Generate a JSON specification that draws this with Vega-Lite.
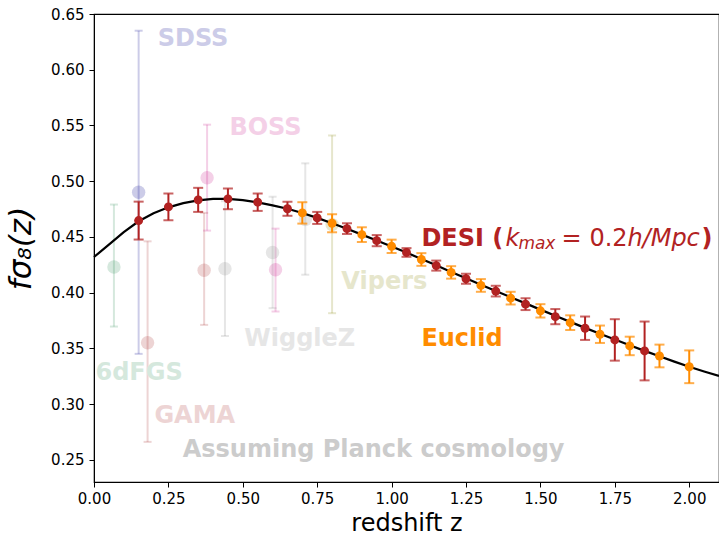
{
  "$schema": "https://vega.github.io/schema/vega-lite/v6.json",
  "width": 625,
  "height": 468,
  "autosize": {"type": "none"},
  "padding": {"left": 94, "top": 14, "right": 0, "bottom": 53},
  "background": "white",
  "config": {
    "font": "DejaVu Sans",
    "view": {"stroke": "black", "strokeWidth": 1.2},
    "axis": {
      "grid": false,
      "labelFlush": false,
      "domainColor": "black",
      "tickColor": "black",
      "labelColor": "black",
      "titleColor": "black",
      "tickSize": 5,
      "labelFontSize": 15,
      "labelFont": "DejaVu Sans",
      "titleFont": "DejaVu Sans",
      "titleFontWeight": "normal"
    }
  },
  "datasets": {
    "curve": [
      {"z": 0.0, "f": 0.4319}, {"z": 0.05, "f": 0.4430}, {"z": 0.1, "f": 0.4542}, {"z": 0.15, "f": 0.4640},
      {"z": 0.2, "f": 0.4712}, {"z": 0.25, "f": 0.4765}, {"z": 0.3, "f": 0.4803}, {"z": 0.35, "f": 0.4828},
      {"z": 0.4, "f": 0.4840}, {"z": 0.45, "f": 0.4840}, {"z": 0.5, "f": 0.4830}, {"z": 0.55, "f": 0.4810},
      {"z": 0.6, "f": 0.4783}, {"z": 0.65, "f": 0.4752}, {"z": 0.7, "f": 0.4714}, {"z": 0.75, "f": 0.4670},
      {"z": 0.8, "f": 0.4622}, {"z": 0.85, "f": 0.4573}, {"z": 0.9, "f": 0.4520}, {"z": 0.95, "f": 0.4467},
      {"z": 1.0, "f": 0.4414}, {"z": 1.05, "f": 0.4359}, {"z": 1.1, "f": 0.4301}, {"z": 1.15, "f": 0.4245},
      {"z": 1.2, "f": 0.4185}, {"z": 1.25, "f": 0.4128}, {"z": 1.3, "f": 0.4071}, {"z": 1.35, "f": 0.4015},
      {"z": 1.4, "f": 0.3959}, {"z": 1.45, "f": 0.3903}, {"z": 1.5, "f": 0.3847}, {"z": 1.55, "f": 0.3791},
      {"z": 1.6, "f": 0.3737}, {"z": 1.65, "f": 0.3683}, {"z": 1.7, "f": 0.3630}, {"z": 1.75, "f": 0.3578},
      {"z": 1.8, "f": 0.3527}, {"z": 1.85, "f": 0.3477}, {"z": 1.9, "f": 0.3428}, {"z": 1.95, "f": 0.3380},
      {"z": 2.0, "f": 0.3335}, {"z": 2.05, "f": 0.3292}, {"z": 2.1, "f": 0.3252}
    ],
    "faint": [
      {"survey": "6dFGS", "z": 0.067, "f": 0.423, "lo": 0.3695, "hi": 0.479},
      {"survey": "SDSS", "z": 0.15, "f": 0.490, "lo": 0.345, "hi": 0.635},
      {"survey": "GAMA", "z": 0.18, "f": 0.355, "lo": 0.266, "hi": 0.446},
      {"survey": "GAMA", "z": 0.37, "f": 0.420, "lo": 0.371, "hi": 0.4715},
      {"survey": "BOSS", "z": 0.38, "f": 0.503, "lo": 0.4556, "hi": 0.5507},
      {"survey": "BOSS", "z": 0.61, "f": 0.4205, "lo": 0.383, "hi": 0.4574},
      {"survey": "WiggleZ", "z": 0.44, "f": 0.4214, "lo": 0.361, "hi": 0.482},
      {"survey": "WiggleZ", "z": 0.60, "f": 0.436, "lo": 0.386, "hi": 0.486},
      {"survey": "WiggleZ", "z": 0.71, "f": 0.4655, "lo": 0.416, "hi": 0.516},
      {"survey": "Vipers", "z": 0.80, "f": 0.461, "lo": 0.3815, "hi": 0.541}
    ],
    "forecast": [
      {"survey": "DESI", "z": 0.15, "f": 0.4646, "lo": 0.4476, "hi": 0.4816},
      {"survey": "DESI", "z": 0.25, "f": 0.4769, "lo": 0.4649, "hi": 0.4889},
      {"survey": "DESI", "z": 0.35, "f": 0.4832, "lo": 0.4724, "hi": 0.4940},
      {"survey": "DESI", "z": 0.45, "f": 0.4841, "lo": 0.4748, "hi": 0.4934},
      {"survey": "DESI", "z": 0.55, "f": 0.4811, "lo": 0.4733, "hi": 0.4889},
      {"survey": "DESI", "z": 0.65, "f": 0.4752, "lo": 0.4689, "hi": 0.4815},
      {"survey": "DESI", "z": 0.75, "f": 0.4670, "lo": 0.4616, "hi": 0.4724},
      {"survey": "DESI", "z": 0.85, "f": 0.4574, "lo": 0.4526, "hi": 0.4622},
      {"survey": "DESI", "z": 0.95, "f": 0.4466, "lo": 0.4416, "hi": 0.4516},
      {"survey": "DESI", "z": 1.05, "f": 0.4360, "lo": 0.4321, "hi": 0.4399},
      {"survey": "DESI", "z": 1.15, "f": 0.4242, "lo": 0.4197, "hi": 0.4287},
      {"survey": "DESI", "z": 1.25, "f": 0.4124, "lo": 0.4079, "hi": 0.4169},
      {"survey": "DESI", "z": 1.35, "f": 0.4013, "lo": 0.3965, "hi": 0.4061},
      {"survey": "DESI", "z": 1.45, "f": 0.3896, "lo": 0.3843, "hi": 0.3949},
      {"survey": "DESI", "z": 1.55, "f": 0.3784, "lo": 0.3716, "hi": 0.3852},
      {"survey": "DESI", "z": 1.65, "f": 0.3680, "lo": 0.3575, "hi": 0.3785},
      {"survey": "DESI", "z": 1.75, "f": 0.3575, "lo": 0.3389, "hi": 0.3761},
      {"survey": "DESI", "z": 1.85, "f": 0.3476, "lo": 0.3212, "hi": 0.3740},
      {"survey": "Euclid", "z": 0.70, "f": 0.4715, "lo": 0.4619, "hi": 0.4811},
      {"survey": "Euclid", "z": 0.80, "f": 0.4622, "lo": 0.4541, "hi": 0.4703},
      {"survey": "Euclid", "z": 0.90, "f": 0.4520, "lo": 0.4454, "hi": 0.4586},
      {"survey": "Euclid", "z": 1.00, "f": 0.4415, "lo": 0.4355, "hi": 0.4475},
      {"survey": "Euclid", "z": 1.10, "f": 0.4297, "lo": 0.4240, "hi": 0.4354},
      {"survey": "Euclid", "z": 1.20, "f": 0.4181, "lo": 0.4125, "hi": 0.4237},
      {"survey": "Euclid", "z": 1.30, "f": 0.4064, "lo": 0.4007, "hi": 0.4121},
      {"survey": "Euclid", "z": 1.40, "f": 0.3950, "lo": 0.3893, "hi": 0.4007},
      {"survey": "Euclid", "z": 1.50, "f": 0.3836, "lo": 0.3776, "hi": 0.3896},
      {"survey": "Euclid", "z": 1.60, "f": 0.3730, "lo": 0.3664, "hi": 0.3796},
      {"survey": "Euclid", "z": 1.70, "f": 0.3626, "lo": 0.3548, "hi": 0.3704},
      {"survey": "Euclid", "z": 1.80, "f": 0.3521, "lo": 0.3438, "hi": 0.3604},
      {"survey": "Euclid", "z": 1.90, "f": 0.3431, "lo": 0.3329, "hi": 0.3533},
      {"survey": "Euclid", "z": 2.00, "f": 0.3334, "lo": 0.3187, "hi": 0.3481}
    ],
    "labels": [
      {"survey": "SDSS", "text": "SDSS", "z": 0.214, "f": 0.6215},
      {"survey": "BOSS", "text": "BOSS", "z": 0.455, "f": 0.5414},
      {"survey": "6dFGS", "text": "6dFGS", "z": 0.005, "f": 0.3217},
      {"survey": "GAMA", "text": "GAMA", "z": 0.203, "f": 0.2829},
      {"survey": "WiggleZ", "text": "WiggleZ", "z": 0.505, "f": 0.3522},
      {"survey": "Vipers", "text": "Vipers", "z": 0.831, "f": 0.4031},
      {"survey": "Euclid", "text": "Euclid", "z": 1.1, "f": 0.3522},
      {"survey": "Planck", "text": "Assuming Planck cosmology", "z": 0.298, "f": 0.252}
    ],
    "desi_label": [
      {"part": "a", "text": "DESI (", "z": 1.1, "f": 0.4417},
      {"part": "b", "text": "k", "z": 1.1, "f": 0.4417},
      {"part": "c", "text": "max", "z": 1.1, "f": 0.4417},
      {"part": "d", "text": "=", "z": 1.1, "f": 0.4417},
      {"part": "e", "text": "0.2", "z": 1.1, "f": 0.4417},
      {"part": "f", "text": "h/Mpc", "z": 1.1, "f": 0.4417},
      {"part": "g", "text": ")", "z": 1.1, "f": 0.4417}
    ]
  },
  "layer": [
    {
      "data": {"name": "faint"},
      "mark": {"type": "rule", "strokeWidth": 2, "opacity": 0.2},
      "encoding": {
        "x": {
          "field": "z", "type": "quantitative",
          "scale": {"domain": [0, 2.1], "nice": false, "zero": false, "padding": 0},
          "title": "redshift z",
          "axis": {"values": [0, 0.25, 0.5, 0.75, 1.0, 1.25, 1.5, 1.75, 2.0], "format": ".2f", "titleFontSize": 24, "labelPadding": 4, "titlePadding": 5}
        },
        "y": {
          "field": "lo", "type": "quantitative",
          "scale": {"domain": [0.23, 0.65], "nice": false, "zero": false, "padding": 0},
          "title": "fσ₈(z)",
          "axis": {"values": [0.25, 0.3, 0.35, 0.4, 0.45, 0.5, 0.55, 0.6, 0.65], "format": ".2f", "titleFontSize": 31, "titleFontStyle": "italic", "labelPadding": 5, "titlePadding": 13}
        },
        "y2": {"field": "hi"},
        "color": {"field": "survey", "type": "nominal", "legend": null}
      }
    },
    {
      "data": {"name": "faint"},
      "mark": {"type": "tick", "orient": "horizontal", "size": 8, "thickness": 2, "opacity": 0.2},
      "encoding": {
        "x": {"field": "z", "type": "quantitative"},
        "y": {"field": "hi", "type": "quantitative"},
        "color": {"field": "survey", "type": "nominal", "legend": null}
      }
    },
    {
      "data": {"name": "faint"},
      "mark": {"type": "tick", "orient": "horizontal", "size": 8, "thickness": 2, "opacity": 0.2},
      "encoding": {
        "x": {"field": "z", "type": "quantitative"},
        "y": {"field": "lo", "type": "quantitative"},
        "color": {"field": "survey", "type": "nominal", "legend": null}
      }
    },
    {
      "data": {"name": "faint"},
      "mark": {"type": "circle", "size": 180, "opacity": 0.2},
      "encoding": {
        "x": {"field": "z", "type": "quantitative"},
        "y": {"field": "f", "type": "quantitative"},
        "color": {"field": "survey", "type": "nominal", "legend": null}
      }
    },
    {
      "data": {"name": "curve"},
      "mark": {"type": "line", "color": "black", "strokeWidth": 2.2},
      "encoding": {
        "x": {"field": "z", "type": "quantitative"},
        "y": {"field": "f", "type": "quantitative"}
      }
    },
    {
      "data": {"name": "forecast"},
      "mark": {"type": "rule", "strokeWidth": 2},
      "encoding": {
        "x": {"field": "z", "type": "quantitative"},
        "y": {"field": "lo", "type": "quantitative"},
        "y2": {"field": "hi"},
        "color": {"field": "survey", "type": "nominal", "legend": null}
      }
    },
    {
      "data": {"name": "forecast"},
      "mark": {"type": "tick", "orient": "horizontal", "size": 10, "thickness": 2},
      "encoding": {
        "x": {"field": "z", "type": "quantitative"},
        "y": {"field": "hi", "type": "quantitative"},
        "color": {"field": "survey", "type": "nominal", "legend": null}
      }
    },
    {
      "data": {"name": "forecast"},
      "mark": {"type": "tick", "orient": "horizontal", "size": 10, "thickness": 2},
      "encoding": {
        "x": {"field": "z", "type": "quantitative"},
        "y": {"field": "lo", "type": "quantitative"},
        "color": {"field": "survey", "type": "nominal", "legend": null}
      }
    },
    {
      "data": {"name": "forecast"},
      "mark": {"type": "circle", "size": 80, "opacity": 1},
      "encoding": {
        "x": {"field": "z", "type": "quantitative"},
        "y": {"field": "f", "type": "quantitative"},
        "color": {
          "field": "survey", "type": "nominal", "legend": null,
          "scale": {
            "domain": ["6dFGS", "SDSS", "GAMA", "BOSS", "WiggleZ", "Vipers", "DESI", "Euclid"],
            "range": ["#2e8b57", "#00008b", "#a52a2a", "#c71585", "#808080", "#808000", "#b22222", "#ff8c00"]
          }
        }
      }
    },
    {
      "data": {"name": "labels"},
      "mark": {"type": "text", "align": "left", "baseline": "alphabetic", "fontSize": 24, "fontWeight": "bold", "font": "DejaVu Sans"},
      "encoding": {
        "x": {"field": "z", "type": "quantitative"},
        "y": {"field": "f", "type": "quantitative"},
        "text": {"field": "text"},
        "fill": {
          "field": "survey", "type": "nominal", "legend": null,
          "scale": {
            "domain": ["6dFGS", "SDSS", "GAMA", "BOSS", "WiggleZ", "Vipers", "Euclid", "Planck"],
            "range": ["#d5e8dd", "#ccccE8", "#edd4d4", "#f4d0e7", "#e6e6e6", "#e6e6cc", "#ff8c00", "#cccccc"]
          }
        }
      }
    },
    {
      "data": {"name": "desi_label"},
      "transform": [{"filter": "datum.part === 'a'"}],
      "mark": {"type": "text", "align": "left", "baseline": "alphabetic", "fontSize": 24, "fontWeight": "bold", "color": "#b22222", "dx": 0},
      "encoding": {
        "x": {"field": "z", "type": "quantitative"},
        "y": {"field": "f", "type": "quantitative"},
        "text": {"field": "text"}
      }
    },
    {
      "data": {"name": "desi_label"},
      "transform": [{"filter": "datum.part === 'b'"}],
      "mark": {"type": "text", "align": "left", "baseline": "alphabetic", "fontSize": 24, "fontStyle": "italic", "color": "#b22222", "dx": 84},
      "encoding": {
        "x": {"field": "z", "type": "quantitative"},
        "y": {"field": "f", "type": "quantitative"},
        "text": {"field": "text"}
      }
    },
    {
      "data": {"name": "desi_label"},
      "transform": [{"filter": "datum.part === 'c'"}],
      "mark": {"type": "text", "align": "left", "baseline": "alphabetic", "fontSize": 17, "fontStyle": "italic", "color": "#b22222", "dx": 97, "dy": 3},
      "encoding": {
        "x": {"field": "z", "type": "quantitative"},
        "y": {"field": "f", "type": "quantitative"},
        "text": {"field": "text"}
      }
    },
    {
      "data": {"name": "desi_label"},
      "transform": [{"filter": "datum.part === 'd'"}],
      "mark": {"type": "text", "align": "left", "baseline": "alphabetic", "fontSize": 24, "color": "#b22222", "dx": 140},
      "encoding": {
        "x": {"field": "z", "type": "quantitative"},
        "y": {"field": "f", "type": "quantitative"},
        "text": {"field": "text"}
      }
    },
    {
      "data": {"name": "desi_label"},
      "transform": [{"filter": "datum.part === 'e'"}],
      "mark": {"type": "text", "align": "left", "baseline": "alphabetic", "fontSize": 24, "color": "#b22222", "dx": 168},
      "encoding": {
        "x": {"field": "z", "type": "quantitative"},
        "y": {"field": "f", "type": "quantitative"},
        "text": {"field": "text"}
      }
    },
    {
      "data": {"name": "desi_label"},
      "transform": [{"filter": "datum.part === 'f'"}],
      "mark": {"type": "text", "align": "left", "baseline": "alphabetic", "fontSize": 24, "fontStyle": "italic", "color": "#b22222", "dx": 206},
      "encoding": {
        "x": {"field": "z", "type": "quantitative"},
        "y": {"field": "f", "type": "quantitative"},
        "text": {"field": "text"}
      }
    },
    {
      "data": {"name": "desi_label"},
      "transform": [{"filter": "datum.part === 'g'"}],
      "mark": {"type": "text", "align": "left", "baseline": "alphabetic", "fontSize": 24, "fontWeight": "bold", "color": "#b22222", "dx": 280},
      "encoding": {
        "x": {"field": "z", "type": "quantitative"},
        "y": {"field": "f", "type": "quantitative"},
        "text": {"field": "text"}
      }
    }
  ]
}
